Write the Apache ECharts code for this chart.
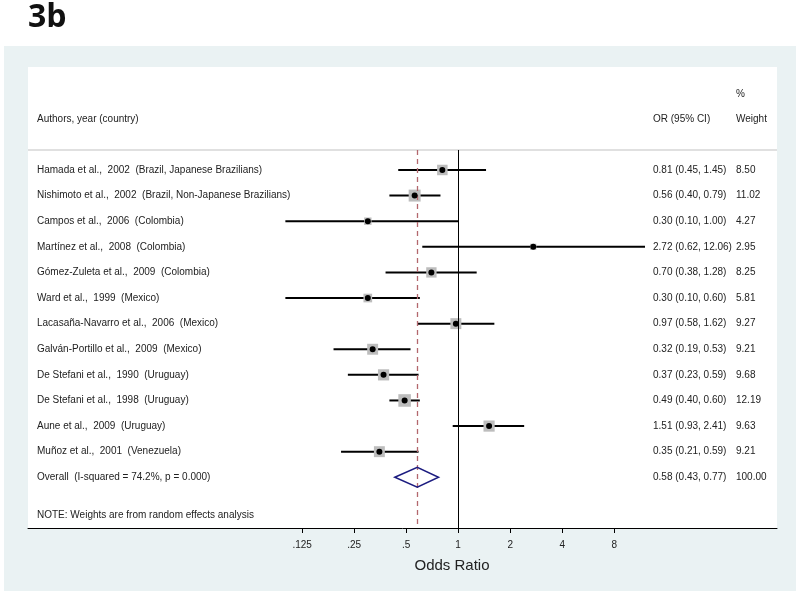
<!DOCTYPE html>
<html><head><meta charset="utf-8">
<script src="https://cdn.jsdelivr.net/npm/echarts@6/dist/echarts.min.js"></script>
<style>html,body{margin:0;padding:0;background:#fff}#c{width:800px;height:596px}</style>
</head><body><div id="c"></div>
<script>
const studies = [
  "Hamada et al.,  2002  (Brazil, Japanese Brazilians)",
  "Nishimoto et al.,  2002  (Brazil, Non-Japanese Brazilians)",
  "Campos et al.,  2006  (Colombia)",
  "Martínez et al.,  2008  (Colombia)",
  "Gómez-Zuleta et al.,  2009  (Colombia)",
  "Ward et al.,  1999  (Mexico)",
  "Lacasaña-Navarro et al.,  2006  (Mexico)",
  "Galván-Portillo et al.,  2009  (Mexico)",
  "De Stefani et al.,  1990  (Uruguay)",
  "De Stefani et al.,  1998  (Uruguay)",
  "Aune et al.,  2009  (Uruguay)",
  "Muñoz et al.,  2001  (Venezuela)"
];
const orVals = [0.81, 0.56, 0.30, 2.72, 0.70, 0.30, 0.97, 0.32, 0.37, 0.49, 1.51, 0.35];
const ciLow  = [0.45, 0.40, 0.10, 0.62, 0.38, 0.10, 0.58, 0.19, 0.23, 0.40, 0.93, 0.21];
const ciHigh = [1.45, 0.79, 1.00, 12.06, 1.28, 0.60, 1.62, 0.53, 0.59, 0.60, 2.41, 0.59];
const weights = [8.50, 11.02, 4.27, 2.95, 8.25, 5.81, 9.27, 9.21, 9.68, 12.19, 9.63, 9.21];
const overallLabel = "Overall  (I-squared = 74.2%, p = 0.000)";
const overallOR = 0.58, overallLow = 0.43, overallHigh = 0.77, overallWeight = 100.00;
const noteText = "NOTE: Weights are from random effects analysis";
const tickValues = [0.125, 0.25, 0.5, 1, 2, 4, 8];
const tickLabels = [".125", ".25", ".5", "1", "2", "4", "8"];

const L = v => Math.log2(v);
const n = studies.length;
const FF = '"Liberation Sans", Arial, sans-serif';
const TXT = '#222';

const rows = [];
for (let i = 0; i < n; i++) rows.push({i, label: studies[i], or: orVals[i], lo: ciLow[i], hi: ciHigh[i], w: weights[i]});

const textRows = rows.map(r => [r.i, r.label, r.or.toFixed(2) + " (" + r.lo.toFixed(2) + ", " + r.hi.toFixed(2) + ")", r.w.toFixed(2)]);
textRows.push([n, overallLabel, overallOR.toFixed(2) + " (" + overallLow.toFixed(2) + ", " + overallHigh.toFixed(2) + ")", overallWeight.toFixed(2)]);
textRows.push([n + 1.5, noteText, "", ""]);

const txt = (s, x, y, extra) => Object.assign({text: s, x: x, y: y, fontFamily: FF, fontSize: 10, fill: TXT, verticalAlign: 'middle'}, extra || {});

const chart = echarts.init(document.getElementById('c'), null, {renderer: 'canvas'});
const option = {
  animation: false,
  backgroundColor: '#fff',
  graphic: [
    {type: 'rect', z: -10, shape: {x: 4, y: 46, width: 792, height: 545}, style: {fill: '#eaf2f3'}},
    {type: 'rect', z: -9, shape: {x: 28, y: 67, width: 749, height: 461}, style: {fill: '#fff'}},
    {type: 'line', z: -8, shape: {x1: 28, y1: 150, x2: 777, y2: 150}, style: {stroke: '#d6d6d6', lineWidth: 1.5}},
    {type: 'text', x: 28, y: 18, style: {text: '3b', fontFamily: '"Open Sans", "Liberation Sans", sans-serif', fontWeight: 'bold', fontSize: 32, fill: '#111', verticalAlign: 'middle'}},
    {type: 'text', style: txt('Authors, year (country)', 37, 119)},
    {type: 'text', style: txt('OR (95% CI)', 653, 119)},
    {type: 'text', style: txt('%', 736, 94)},
    {type: 'text', style: txt('Weight', 736, 119)},
    {type: 'text', style: txt('Odds Ratio', 452, 566, {fontSize: 15, align: 'center'})}
  ],
  grid: {left: 28, right: 23, top: 150, bottom: 68},
  xAxis: {
    type: 'value', min: -8.27, max: 6.13, position: 'bottom',
    axisLine: {show: true, onZero: false, lineStyle: {color: '#000', width: 1}},
    axisTick: {show: true, length: 5, lineStyle: {color: '#000'}, customValues: tickValues.map(L)},
    axisLabel: {show: true, customValues: tickValues.map(L), margin: 12, fontSize: 10, fontFamily: FF, color: '#222',
      formatter: v => { const k = tickValues.findIndex(t => Math.abs(L(t) - v) < 1e-6); return k >= 0 ? tickLabels[k] : ''; }},
    splitLine: {show: false}
  },
  yAxis: {type: 'value', min: -0.78, max: 13.98, inverse: true, show: false},
  series: [
    {
      type: 'custom', name: 'ci', z: 3,
      data: rows.map(r => [L(r.lo), L(r.hi), r.i]),
      renderItem: (params, api) => {
        const a = api.coord([api.value(0), api.value(2)]);
        const b = api.coord([api.value(1), api.value(2)]);
        return {type: 'line', shape: {x1: a[0], y1: a[1], x2: b[0], y2: b[1]}, style: {stroke: '#000', lineWidth: 2}};
      },
      markLine: {
        silent: true, symbol: 'none', label: {show: false},
        data: [
          {xAxis: 0, lineStyle: {color: '#000', width: 1, type: 'solid'}},
          {xAxis: L(overallOR), lineStyle: {color: '#b3676d', width: 1.3, type: [5, 4]}}
        ]
      }
    },
    {
      type: 'custom', name: 'weight', z: 4,
      data: rows.map(r => [L(r.or), r.i, r.w]),
      renderItem: (params, api) => {
        const c = api.coord([api.value(0), api.value(1)]);
        const s = Math.sqrt(api.value(2)) * 3.6;
        return {type: 'rect', shape: {x: c[0] - s / 2, y: c[1] - s / 2, width: s, height: s}, style: {fill: '#bdbdbd'}};
      }
    },
    {
      type: 'scatter', name: 'or', z: 5, symbol: 'circle', symbolSize: 6,
      itemStyle: {color: '#000', opacity: 1},
      data: rows.map(r => [L(r.or), r.i])
    },
    {
      type: 'custom', name: 'overall', z: 5,
      data: [[L(overallLow), L(overallOR), L(overallHigh), n]],
      renderItem: (params, api) => {
        const y = api.value(3);
        const p1 = api.coord([api.value(0), y]);
        const p2 = api.coord([api.value(1), y]);
        const p3 = api.coord([api.value(2), y]);
        const h = 10;
        return {type: 'polygon', shape: {points: [[p1[0], p1[1]], [p2[0], p2[1] - h], [p3[0], p3[1]], [p2[0], p2[1] + h]]},
          style: {fill: 'none', stroke: '#1c1c80', lineWidth: 1.5}};
      }
    },
    {
      type: 'custom', name: 'text', z: 6, clip: false,
      data: textRows,
      renderItem: (params, api) => {
        const y = api.coord([0, api.value(0)])[1];
        const d = textRows[params.dataIndex];
        return {type: 'group', children: [
          {type: 'text', style: txt(d[1], 37, y)},
          {type: 'text', style: txt(d[2], 653, y)},
          {type: 'text', style: txt(d[3], 736, y)}
        ]};
      }
    }
  ]
};
chart.setOption(option);
</script></body></html>
